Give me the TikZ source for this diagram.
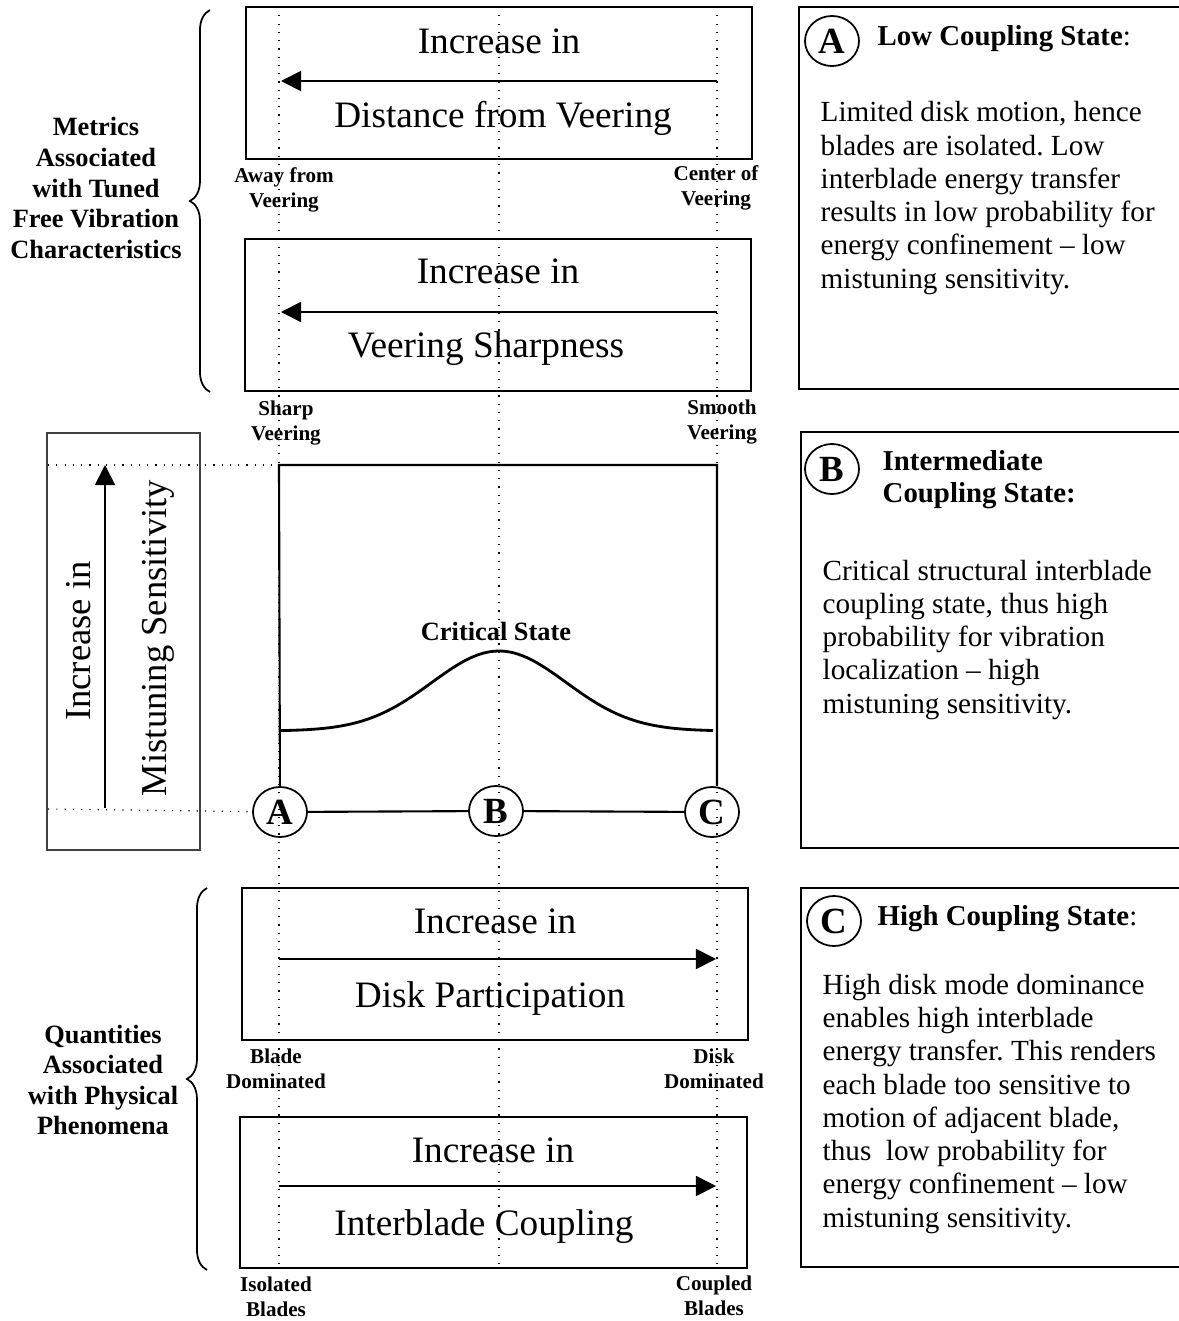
\documentclass[tikz,border=0pt]{standalone}
\usepackage{fontspec}
\setmainfont{Liberation Serif}
\frenchspacing
\usetikzlibrary{arrows.meta,decorations.pathreplacing,shapes.geometric,positioning}

\tikzset{
	frame/.style={draw, line width=0.6pt},
	guide/.style={dotted, line width=0.35pt},
	trend/.style={line width=0.5pt, -{Triangle[length=5.7pt,width=5.7pt]}},
	bigtxt/.style={inner sep=0, anchor=base, font=\fontsize{10.6}{12}\selectfont},
	endlbl/.style={inner sep=0, align=center, font=\bfseries\fontsize{6}{7}\selectfont},
	grouplbl/.style={inner sep=0, align=center, font=\bfseries\fontsize{7.5}{8.7}\selectfont},
	statehdr/.style={inner sep=0, anchor=base west, align=left, font=\fontsize{8.2}{9.1}\selectfont},
	statetxt/.style={inner sep=0, anchor=base west, align=left, font=\fontsize{8.3}{9.45}\selectfont},
	tag/.style={draw, ellipse, line width=0.5pt, inner sep=0, minimum width=0.54cm, minimum height=0.5cm, font=\bfseries\fontsize{10.5}{12}\selectfont},
}

\begin{document}
\begin{tikzpicture}[x=0.01cm, y=-0.01cm]
	\useasboundingbox (0,0) rectangle (1178,1321);
	
	%guides
	\foreach \x in {279, 499, 717}{
		\draw[guide] (\x,7) -- (\x,1268);
	}
	
	%tuned free vibration metrics
	\draw[frame] (246,7) rectangle (752,159);
	\node[bigtxt] (incdist) at (499,53){Increase in};
	\node[bigtxt] (dist) at (503,127){Distance from Veering};
	\coordinate (distR) at (717,81);
	\coordinate (distL) at (281,81);
	\draw[trend] (distR) -- (distL);
	
	\draw[frame] (245,239) rectangle (751,391);
	\node[bigtxt] (incsharp) at (498,283){Increase in};
	\node[bigtxt] (sharp) at (486,357){Veering Sharpness};
	\coordinate (sharpR) at (717,312);
	\coordinate (sharpL) at (281,312);
	\draw[trend] (sharpR) -- (sharpL);
	
	\node[endlbl] (away) at (284,190){Away from\\Veering};
	\node[endlbl] (center) at (716,188){Center of\\Veering};
	\node[endlbl] (sharpv) at (286,423){Sharp\\Veering};
	\node[endlbl] (smooth) at (722,422){Smooth\\Veering};
	
	\draw[decorate, decoration={brace, amplitude=5.7pt}, line width=0.5pt] (210,392) -- (210,10);
	\node[grouplbl] (metrics) at (96,188){Metrics\\Associated\\with Tuned\\Free Vibration\\Characteristics};
	
	%mistuning sensitivity
	\draw[frame, draw=black!75] (47,433) rectangle (200,850);
	\coordinate (senstop) at (105,465);
	\coordinate (sensbot) at (105,808);
	\draw[trend] (sensbot) -- (senstop);
	\node[inner sep=0, rotate=90, font=\fontsize{10.4}{12}\selectfont] (incsens) at (79,641){Increase in};
	\node[inner sep=0, rotate=90, font=\fontsize{10.4}{12}\selectfont] (sens) at (158,638){Mistuning Sensitivity};
	
	\node[tag] (A) at (280,812){A};
	\node[tag] (B) at (496,811){B};
	\node[tag] (C) at (712,812){C};
	
	\coordinate (tl) at (279,465);
	\coordinate (tr) at (717,465);
	\draw[guide] (48,465) -- (tl);
	\draw[guide] (48,809) -- (A);
	\draw[frame] (A) -- (tl) -- (tr) -- (tr |- C.north);
	\draw[frame] (A) -- (B) -- (C);
	
	\draw[line width=0.8pt, domain=279:713, samples=90] plot (\x, {731-80*exp(-((\x-499)/95)*((\x-499)/95))});
	\node[inner sep=0, font=\bfseries\fontsize{7.5}{9}\selectfont] (crit) at (496,631){Critical State};
	
	%physical phenomena
	\draw[frame] (242,888) rectangle (748,1040);
	\node[bigtxt] (incdisk) at (495,933){Increase in};
	\node[bigtxt] (disk) at (490,1007){Disk Participation};
	\coordinate (diskL) at (279,959);
	\coordinate (diskR) at (716,959);
	\draw[trend] (diskL) -- (diskR);
	
	\draw[frame] (240,1117) rectangle (747,1268);
	\node[bigtxt] (inccoup) at (493,1162){Increase in};
	\node[bigtxt] (coup) at (484,1235){Interblade Coupling};
	\coordinate (coupL) at (279,1186);
	\coordinate (coupR) at (716,1186);
	\draw[trend] (coupL) -- (coupR);
	
	\node[endlbl] (bladedom) at (276,1069){Blade\\Dominated};
	\node[endlbl] (diskdom) at (714,1069){Disk\\Dominated};
	\node[endlbl] (isolated) at (276,1297){Isolated\\Blades};
	\node[endlbl] (coupled) at (714,1296){Coupled\\Blades};
	
	\draw[decorate, decoration={brace, amplitude=5.7pt}, line width=0.5pt] (207,1270) -- (207,888);
	\node[grouplbl] (quant) at (103,1080){Quantities\\Associated\\with Physical\\Phenomena};
	
	%state descriptions (base = last line)
	\draw[frame] (1185,7) -- (799,7) -- (799,389) -- (1185,389);
	\node[tag] (sA) at (832,41){A};
	\node[statehdr] (hA) at (877,45){\textbf{Low Coupling State}:};
	\node[statetxt] (tA) at (820,288){Limited disk motion, hence\\blades are isolated. Low\\interblade energy transfer\\results in low probability for\\energy confinement -- low\\mistuning sensitivity.};
	
	\draw[frame] (1185,432) -- (801,432) -- (801,848) -- (1185,848);
	\node[tag] (sB) at (832,469){B};
	\node[statehdr] (hB) at (882,502){\textbf{Intermediate}\\\textbf{Coupling State:}};
	\node[statetxt] (tB) at (822,713){Critical structural interblade\\coupling state, thus high\\probability for vibration\\localization -- high\\mistuning sensitivity.};
	
	\draw[frame] (1185,888) -- (801,888) -- (801,1267) -- (1185,1267);
	\node[tag] (sC) at (834,921){C};
	\node[statehdr] (hC) at (877,925){\textbf{High Coupling State}:};
	\node[statetxt] (tC) at (822,1227){High disk mode dominance\\enables high interblade\\energy transfer. This renders\\each blade too sensitive to\\motion of adjacent blade,\\thus\ \ low probability for\\energy confinement -- low\\mistuning sensitivity.};
\end{tikzpicture}
\end{document}
